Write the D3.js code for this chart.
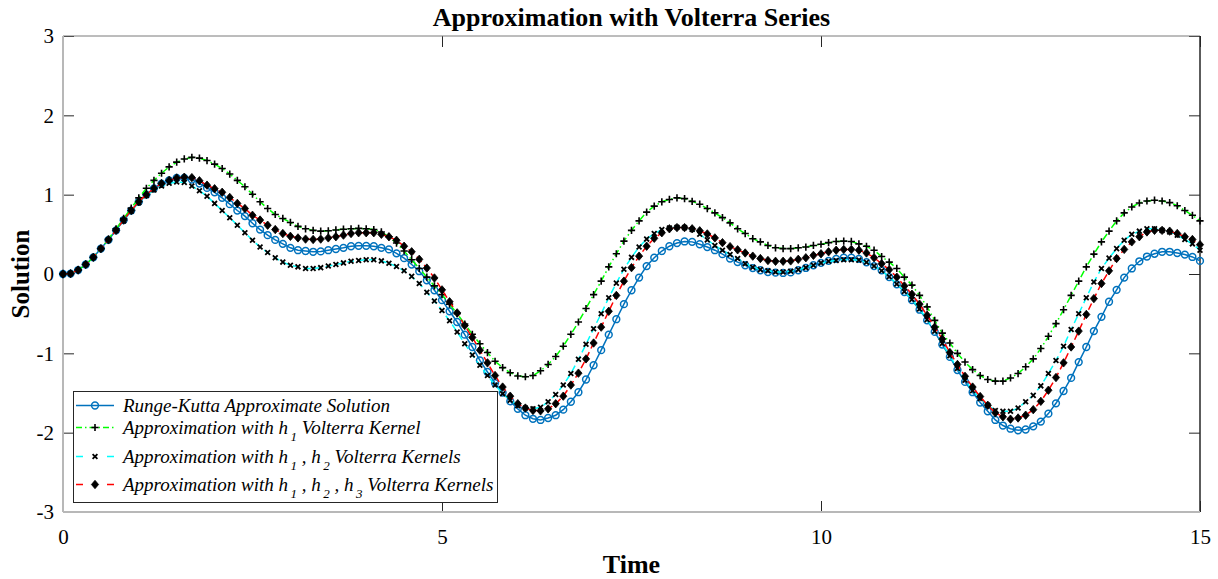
<!DOCTYPE html>
<html>
<head>
<meta charset="utf-8">
<script src="https://cdn.jsdelivr.net/npm/d3@7"></script>
<style>
  html, body { margin: 0; padding: 0; background: #fff; }
  svg { display: block; }
  text { font-family: "Liberation Serif", "Times New Roman", serif; fill: #000; }
</style>
</head>
<body>
<svg id="chart" width="1218" height="579"></svg>
<script>
// ---------------- DATA ----------------
const time = d3.range(151).map(i => +(i / 10).toFixed(1)); // 0 .. 15 step 0.1

const rungeKutta = [
  0, 0.005, 0.05, 0.12, 0.21, 0.32, 0.43, 0.55, 0.68, 0.80,
  0.91, 1.00, 1.08, 1.14, 1.18, 1.21, 1.21, 1.19, 1.14, 1.085,
  1.03, 0.96, 0.88, 0.80, 0.73, 0.64, 0.56, 0.49, 0.43, 0.38,
  0.33, 0.30, 0.29, 0.28, 0.285, 0.30, 0.315, 0.33, 0.35, 0.355,
  0.355, 0.35, 0.33, 0.31, 0.26, 0.20, 0.12, 0.035, -0.08, -0.205,
  -0.33, -0.47, -0.605, -0.765, -0.92, -1.09, -1.235, -1.375, -1.495, -1.605,
  -1.70, -1.78, -1.825, -1.84, -1.815, -1.78, -1.71, -1.61, -1.49, -1.33,
  -1.15, -0.96, -0.765, -0.57, -0.38, -0.205, -0.045, 0.10, 0.205, 0.29,
  0.35, 0.39, 0.41, 0.405, 0.375, 0.34, 0.30, 0.25, 0.195, 0.15,
  0.11, 0.075, 0.047, 0.025, 0.017, 0.013, 0.02, 0.047, 0.076, 0.11,
  0.14, 0.165, 0.19, 0.205, 0.205, 0.19, 0.148, 0.10, 0.047, -0.04,
  -0.13, -0.227, -0.33, -0.45, -0.585, -0.73, -0.89, -1.045, -1.21, -1.36,
  -1.49, -1.62, -1.73, -1.84, -1.91, -1.95, -1.97, -1.96, -1.92, -1.86,
  -1.76, -1.63, -1.475, -1.31, -1.11, -0.92, -0.72, -0.54, -0.35, -0.20,
  -0.045, 0.07, 0.16, 0.22, 0.255, 0.28, 0.28, 0.265, 0.245, 0.215,
  0.165
];

const kernelH1 = [
  0, 0.005, 0.05, 0.12, 0.21, 0.32, 0.44, 0.57, 0.70, 0.83,
  0.96, 1.08, 1.18, 1.27, 1.35, 1.41, 1.45, 1.47, 1.46, 1.43,
  1.385, 1.33, 1.26, 1.18, 1.10, 1.005, 0.91, 0.825, 0.75, 0.70,
  0.65, 0.60, 0.57, 0.55, 0.54, 0.545, 0.555, 0.565, 0.57, 0.575,
  0.57, 0.56, 0.53, 0.47, 0.39, 0.29, 0.18, 0.07, -0.04, -0.15,
  -0.26, -0.38, -0.50, -0.63, -0.76, -0.88, -0.99, -1.10, -1.18, -1.245,
  -1.285, -1.295, -1.28, -1.22, -1.14, -1.04, -0.91, -0.76, -0.605, -0.435,
  -0.26, -0.09, 0.09, 0.255, 0.415, 0.55, 0.67, 0.78, 0.855, 0.91,
  0.94, 0.96, 0.95, 0.915, 0.88, 0.825, 0.77, 0.71, 0.645, 0.57,
  0.51, 0.445, 0.405, 0.36, 0.33, 0.32, 0.32, 0.33, 0.34, 0.36,
  0.375, 0.395, 0.41, 0.415, 0.41, 0.38, 0.35, 0.30, 0.22, 0.15,
  0.07, -0.04, -0.14, -0.27, -0.415, -0.585, -0.745, -0.87, -1.00, -1.11,
  -1.205, -1.28, -1.33, -1.35, -1.35, -1.31, -1.255, -1.17, -1.07, -0.94,
  -0.785, -0.625, -0.45, -0.27, -0.09, 0.09, 0.25, 0.405, 0.54, 0.67,
  0.77, 0.845, 0.895, 0.92, 0.93, 0.92, 0.90, 0.86, 0.80, 0.74,
  0.67
];

const kernelH12 = [
  0, 0.005, 0.05, 0.12, 0.21, 0.32, 0.43, 0.55, 0.67, 0.79,
  0.90, 0.99, 1.06, 1.11, 1.145, 1.16, 1.155, 1.11, 1.05, 0.98,
  0.89, 0.80, 0.71, 0.615, 0.52, 0.425, 0.34, 0.27, 0.205, 0.15,
  0.11, 0.09, 0.07, 0.07, 0.08, 0.10, 0.12, 0.14, 0.16, 0.17,
  0.18, 0.18, 0.165, 0.135, 0.095, 0.04, -0.03, -0.12, -0.23, -0.34,
  -0.46, -0.59, -0.73, -0.88, -1.02, -1.15, -1.28, -1.40, -1.51, -1.59,
  -1.66, -1.69, -1.70, -1.68, -1.61, -1.52, -1.40, -1.255, -1.075, -0.885,
  -0.69, -0.50, -0.30, -0.115, 0.06, 0.21, 0.34, 0.44, 0.51, 0.56,
  0.58, 0.59, 0.585, 0.56, 0.50, 0.43, 0.36, 0.30, 0.245, 0.195,
  0.13, 0.085, 0.055, 0.04, 0.025, 0.025, 0.035, 0.055, 0.08, 0.11,
  0.14, 0.16, 0.17, 0.18, 0.18, 0.175, 0.148, 0.10, 0.04, -0.035,
  -0.125, -0.22, -0.32, -0.44, -0.575, -0.72, -0.875, -1.03, -1.19, -1.34,
  -1.47, -1.57, -1.655, -1.72, -1.73, -1.73, -1.69, -1.61, -1.53, -1.41,
  -1.255, -1.09, -0.91, -0.70, -0.50, -0.30, -0.10, 0.07, 0.20, 0.32,
  0.425, 0.50, 0.54, 0.57, 0.57, 0.55, 0.53, 0.49, 0.435, 0.38,
  0.30
];

const kernelH123 = [
  0, 0.005, 0.05, 0.12, 0.21, 0.32, 0.43, 0.55, 0.68, 0.80,
  0.91, 1.00, 1.08, 1.14, 1.18, 1.21, 1.22, 1.215, 1.175, 1.12,
  1.075, 1.03, 0.965, 0.89, 0.825, 0.74, 0.68, 0.615, 0.56, 0.51,
  0.475, 0.455, 0.44, 0.435, 0.44, 0.455, 0.47, 0.49, 0.51, 0.52,
  0.52, 0.52, 0.50, 0.47, 0.425, 0.35, 0.28, 0.185, 0.075, -0.05,
  -0.20, -0.35, -0.49, -0.65, -0.80, -0.96, -1.12, -1.28, -1.425, -1.54,
  -1.635, -1.69, -1.72, -1.725, -1.70, -1.635, -1.54, -1.40, -1.25, -1.07,
  -0.87, -0.67, -0.47, -0.27, -0.09, 0.08, 0.225, 0.35, 0.45, 0.52,
  0.57, 0.585, 0.585, 0.57, 0.545, 0.505, 0.455, 0.395, 0.345, 0.305,
  0.265, 0.225, 0.195, 0.17, 0.16, 0.16, 0.165, 0.185, 0.205, 0.235,
  0.255, 0.28, 0.30, 0.31, 0.31, 0.30, 0.265, 0.205, 0.13, 0.055,
  -0.04, -0.15, -0.255, -0.38, -0.52, -0.67, -0.82, -0.99, -1.14, -1.29,
  -1.425, -1.545, -1.655, -1.75, -1.80, -1.83, -1.815, -1.78, -1.71, -1.605,
  -1.465, -1.305, -1.12, -0.92, -0.72, -0.51, -0.31, -0.12, 0.04, 0.195,
  0.31, 0.405, 0.47, 0.53, 0.55, 0.55, 0.54, 0.51, 0.47, 0.435,
  0.37
];

const xTicks = [0, 5, 10, 15];
const yTicks = [-3, -2, -1, 0, 1, 2, 3];
const titleText = "Approximation with Volterra Series";
const xLabel = "Time";
const yLabel = "Solution";

// legend label pieces: [text, isSubscript]
const legendLabels = [
  [["Runge-Kutta Approximate Solution", false]],
  [["Approximation with h", false], ["1", true], [" Volterra Kernel", false]],
  [["Approximation with h", false], ["1", true], [" , h", false], ["2", true], [" Volterra Kernels", false]],
  [["Approximation with h", false], ["1", true], [" , h", false], ["2", true], [" , h", false], ["3", true], [" Volterra Kernels", false]]
];

// ---------------- SETUP ----------------
const svg = d3.select("#chart");
const pLeft = 63, pRight = 1200, pTop = 36, pBottom = 512;
const x = d3.scaleLinear().domain([0, 15]).range([pLeft, pRight]);
const y = d3.scaleLinear().domain([-3, 3]).range([pBottom, pTop]);

const seriesDefs = [
  { values: rungeKutta, color: "#0072BD", dash: null, legendDash: null, marker: "circle", lw: 1.5 },
  { values: kernelH1, color: "#00FF00", dash: "7,3,1.5,3", legendDash: "6,3,1.5,3", marker: "plus", lw: 1.5 },
  { values: kernelH12, color: "#00FFFF", dash: "7,4", legendDash: "7,24", marker: "cross", lw: 1.5 },
  { values: kernelH123, color: "#FF0000", dash: "7,4", legendDash: "7,24", marker: "diamond", lw: 1.5 }
];

function drawMarker(g, type, cx, cy, color) {
  if (type === "circle") {
    g.append("circle").attr("cx", cx).attr("cy", cy).attr("r", 3.4)
      .attr("fill", "none").attr("stroke", color).attr("stroke-width", 1.5);
  } else if (type === "plus") {
    g.append("path").attr("d", `M${cx-3.6},${cy}H${cx+3.6}M${cx},${cy-3.6}V${cy+3.6}`)
      .attr("stroke", "#000").attr("stroke-width", 1.6).attr("fill", "none");
  } else if (type === "cross") {
    g.append("path").attr("d", `M${cx-2.4},${cy-2.4}L${cx+2.4},${cy+2.4}M${cx-2.4},${cy+2.4}L${cx+2.4},${cy-2.4}`)
      .attr("stroke", "#000").attr("stroke-width", 1.8).attr("fill", "none");
  } else if (type === "diamond") {
    g.append("path").attr("d", `M${cx},${cy-4.2}L${cx+3.6},${cy}L${cx},${cy+4.2}L${cx-3.6},${cy}Z`)
      .attr("fill", "#000").attr("stroke", "#000").attr("stroke-width", 0.8);
  }
}

// ---------------- AXES ----------------
const tickLen = 11;
const gx = svg.append("g").attr("transform", `translate(0,${pBottom})`)
  .call(d3.axisBottom(x).tickValues(xTicks).tickSizeInner(-tickLen).tickSizeOuter(0).tickPadding(17).tickFormat(d3.format("d")));
const gxTop = svg.append("g").attr("transform", `translate(0,${pTop})`)
  .call(d3.axisTop(x).tickValues(xTicks).tickSizeInner(-tickLen).tickSizeOuter(0).tickFormat(""));
const gy = svg.append("g").attr("transform", `translate(${pLeft},0)`)
  .call(d3.axisLeft(y).tickValues(yTicks).tickSizeInner(-tickLen).tickSizeOuter(0).tickPadding(9).tickFormat(d => d < 0 ? "-" + Math.abs(d) : String(d)));
const gyRight = svg.append("g").attr("transform", `translate(${pRight},0)`)
  .call(d3.axisRight(y).tickValues(yTicks).tickSizeInner(-tickLen).tickSizeOuter(0).tickFormat(""));

[gx, gxTop, gy, gyRight].forEach(g => {
  g.select(".domain").remove();
  g.selectAll(".tick line").attr("stroke", "#262626").attr("stroke-width", 1);
  g.selectAll(".tick text").attr("font-family", "Liberation Serif").attr("font-size", 21).attr("fill", "#262626");
});

// frame
svg.append("line").attr("x1", pLeft).attr("x2", pRight).attr("y1", pTop).attr("y2", pTop)
  .attr("stroke", "#7a7a7a").attr("stroke-width", 1);
svg.append("line").attr("x1", pRight).attr("x2", pRight).attr("y1", pTop).attr("y2", pBottom)
  .attr("stroke", "#262626").attr("stroke-width", 1.5);
svg.append("line").attr("x1", pLeft).attr("x2", pLeft).attr("y1", pTop).attr("y2", pBottom)
  .attr("stroke", "#b8b8b8").attr("stroke-width", 2);
svg.append("line").attr("x1", pLeft).attr("x2", pRight).attr("y1", pBottom).attr("y2", pBottom)
  .attr("stroke", "#b8b8b8").attr("stroke-width", 2);

// ---------------- SERIES ----------------
const plot = svg.append("g");
const line = d3.line().x((d, i) => x(time[i])).y(d => y(d));
seriesDefs.forEach(s => {
  const g = plot.append("g");
  g.append("path").datum(s.values).attr("d", line)
    .attr("fill", "none").attr("stroke", s.color).attr("stroke-width", s.lw)
    .attr("stroke-dasharray", s.dash);
  s.values.forEach((v, i) => drawMarker(g, s.marker, x(time[i]), y(v), s.color));
});

// ---------------- TEXT ----------------
svg.append("text").attr("x", (pLeft + pRight) / 2).attr("y", 17).attr("dy", "0.35em")
  .attr("text-anchor", "middle").attr("font-weight", "bold").attr("font-size", 26).text(titleText);
svg.append("text").attr("x", (pLeft + pRight) / 2).attr("y", 564).attr("dy", "0.35em")
  .attr("text-anchor", "middle").attr("font-weight", "bold").attr("font-size", 26).text(xLabel);
svg.append("text").attr("transform", `translate(20,${(pTop + pBottom) / 2}) rotate(-90)`).attr("dy", "0.35em")
  .attr("text-anchor", "middle").attr("font-weight", "bold").attr("font-size", 25).text(yLabel);

// ---------------- LEGEND ----------------
const lg = svg.append("g");
lg.append("rect").attr("x", 73.5).attr("y", 391.5).attr("width", 424).attr("height", 111)
  .attr("fill", "#fff").attr("stroke", "#262626").attr("stroke-width", 1);
const rowY = [405.5, 427.5, 456.5, 484.5];
seriesDefs.forEach((s, i) => {
  const yy = rowY[i];
  lg.append("line").attr("x1", 76).attr("x2", 114).attr("y1", yy).attr("y2", yy)
    .attr("stroke", s.color).attr("stroke-width", s.lw).attr("stroke-dasharray", s.legendDash);
  drawMarker(lg, s.marker, 95, yy, s.color);
  const t = lg.append("text").attr("x", 123).attr("y", yy + 6)
    .attr("font-style", "italic").attr("font-size", 19).attr("xml:space", "preserve");
  let prevSub = false;
  legendLabels[i].forEach(([txt, sub]) => {
    const ts = t.append("tspan").text(txt);
    if (sub) ts.attr("font-size", 13).attr("dy", 7).attr("dx", 2.5);
    else if (prevSub) ts.attr("dy", -7);
    prevSub = sub;
  });
});
</script>
</body>
</html>
